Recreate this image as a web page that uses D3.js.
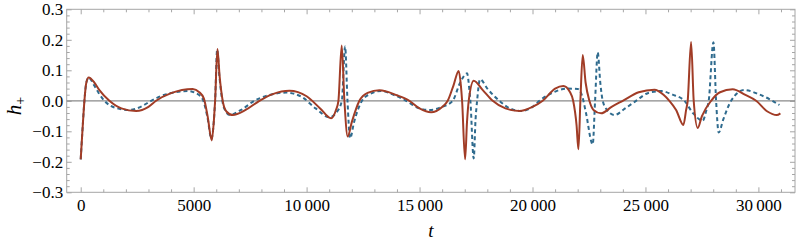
<!DOCTYPE html>
<html>
<head>
<meta charset="utf-8">
<script src="https://cdn.jsdelivr.net/npm/d3@7"></script>
<style>
  body { margin: 0; background: #fff; }
  svg { display: block; }
  .tick text { font-family: "Liberation Serif", "DejaVu Serif", serif; font-size: 17px; fill: #000; }
  .axis path, .axis line { stroke: #a6a6a6; }
</style>
</head>
<body>
<figure id="chart" style="margin:0"></figure>
<script>
// solid curve (t, h+)
const redT = [0, 100, 164, 250, 354, 600, 828, 1270, 1800, 2452, 3000, 3338, 4000, 4958, 5250, 5450, 5622, 5800, 5900, 5950, 6052, 6150, 6286, 6450, 6729, 7300, 7910, 8500, 9238, 10000, 10600, 11084, 11300, 11408, 11554, 11673, 11820, 12000, 12337, 12700, 13223, 14000, 14550, 15000, 15512, 16000, 16246, 16500, 16733, 16830, 16883, 17016, 17100, 17176, 17397, 17800, 18238, 18800, 19420, 20000, 20452, 21000, 21368, 21650, 21800, 21950, 22032, 22120, 22222, 22350, 22519, 22700, 23037, 23500, 23994, 24700, 25396, 25800, 26060, 26357, 26680, 26800, 26870, 27020, 27136, 27313, 27500, 27906, 28300, 28862, 29400, 29898, 30400, 30810, 30974];
const redH = [-0.192, -0.07, 0.0, 0.06, 0.076, 0.06, 0.035, 0.0, -0.025, -0.0334, -0.02, 0.0, 0.025, 0.0387, 0.028, 0.008, -0.052, -0.13, -0.06, 0.0, 0.17, 0.08, 0.0, -0.035, -0.0466, -0.03, 0.0, 0.022, 0.033, 0.015, -0.025, -0.0574, -0.03, 0.0, 0.181, 0.0, -0.117, -0.07, 0.0, 0.026, 0.0344, 0.018, 0.0, -0.025, -0.0377, -0.02, 0.0, 0.05, 0.098, 0.05, 0.0, -0.192, -0.07, 0.0, 0.066, 0.035, 0.0, -0.025, -0.0334, -0.02, 0.0, 0.04, 0.0485, 0.03, 0.0, -0.08, -0.159, 0.0, 0.15, 0.06, 0.0, -0.03, -0.041, -0.02, 0.0, 0.028, 0.0365, 0.02, 0.0, -0.03, -0.0793, -0.03, 0.0, 0.193, 0.0, -0.089, -0.05, 0.0, 0.028, 0.0377, 0.02, 0.0, -0.035, -0.0466, -0.041];

// dashed curve (t, h+)
const blueT = [0, 100, 164, 250, 354, 600, 800, 1050, 1500, 2156, 2700, 3116, 3800, 4737, 5100, 5400, 5600, 5790, 5900, 5950, 6040, 6140, 6270, 6420, 6583, 7100, 7690, 8300, 9092, 9800, 10400, 11010, 11300, 11560, 11704, 11810, 11925, 12100, 12450, 12800, 13298, 13900, 14405, 14900, 15437, 16000, 16467, 16800, 17105, 17200, 17250, 17397, 17480, 17547, 17680, 18000, 18535, 19000, 19494, 20000, 20306, 21000, 21500, 22000, 22200, 22370, 22665, 22770, 22887, 23000, 23108, 23300, 23626, 24100, 24586, 25100, 25700, 26200, 26723, 27100, 27535, 27700, 27800, 28009, 28127, 28243, 28450, 28792, 29380, 30000, 30500, 30930];
const blueH = [-0.192, -0.07, 0.0, 0.06, 0.076, 0.05, 0.025, 0.0, -0.022, -0.03, -0.018, 0.0, 0.022, 0.032, 0.025, 0.005, -0.05, -0.125, -0.06, 0.0, 0.168, 0.08, 0.0, -0.035, -0.0466, -0.03, 0.0, 0.018, 0.027, 0.012, -0.025, -0.054, -0.04, 0.0, 0.178, 0.0, -0.123, -0.07, 0.0, 0.022, 0.032, 0.018, 0.0, -0.022, -0.03, -0.02, 0.0, 0.06, 0.09, 0.04, 0.0, -0.189, -0.06, 0.0, 0.0705, 0.04, 0.0, -0.025, -0.0334, -0.02, 0.0, 0.03, 0.04, 0.039, 0.015, -0.041, -0.143, 0.0, 0.159, 0.06, 0.0, -0.03, -0.0466, -0.025, 0.0, 0.025, 0.032, 0.02, 0.0, -0.04, -0.065, -0.03, 0.0, 0.192, 0.0, -0.104, -0.06, 0.0, 0.0354, 0.022, 0.005, -0.0138];

const xTicks = [0, 5000, 10000, 15000, 20000, 25000, 30000];
const xTickLabels = ['0', '5000', '10\u2009000', '15\u2009000', '20\u2009000', '25\u2009000', '30\u2009000'];
const yTicks = [-0.3, -0.2, -0.1, 0, 0.1, 0.2, 0.3];
const yTickLabels = ['\u22120.3', '\u22120.2', '\u22120.1', '0.0', '0.1', '0.2', '0.3'];

const width = 797;
const height = 246;
const plotLeft = 66.7, plotRight = 795, plotTop = 9.3, plotBottom = 192.3;

const svg = d3.select('figure#chart')
  .append('svg')
  .attr('width', width)
  .attr('height', height);

const x = d3.scaleLinear().domain([-620, 31620]).range([plotLeft, plotRight]);
const y = d3.scaleLinear().domain([-0.3, 0.3]).range([plotBottom, plotTop]);

const xMinor = d3.range(0, 31001, 1000).filter(d => d % 5000 !== 0);
const yMinor = d3.range(-30, 31, 2).filter(d => d % 10 !== 0).map(d => d / 100);

// frame ticks, all pointing inward
function addAxis(axisFn, scale, transform, major, minor, labels) {
  const gMin = svg.append('g').attr('class', 'axis').attr('transform', transform)
    .call(axisFn(scale).tickValues(minor).tickSize(-3).tickFormat(''));
  gMin.select('.domain').remove();
  const g = svg.append('g').attr('class', 'axis').attr('transform', transform)
    .call(axisFn(scale).tickValues(major).tickSize(-5).tickSizeOuter(0)
      .tickPadding(axisFn === d3.axisLeft ? 3.5 : 7)
      .tickFormat((d, i) => labels ? labels[i] : ''));
  g.select('.domain').remove();
  return g;
}

addAxis(d3.axisBottom, x, `translate(0,${plotBottom})`, xTicks, xMinor, xTickLabels);
addAxis(d3.axisTop, x, `translate(0,${plotTop})`, xTicks, xMinor, null);
addAxis(d3.axisLeft, y, `translate(${plotLeft},0)`, yTicks, yMinor, yTickLabels);
addAxis(d3.axisRight, y, `translate(${plotRight},0)`, yTicks, yMinor, null);

svg.append('rect')
  .attr('x', plotLeft).attr('y', plotTop)
  .attr('width', plotRight - plotLeft).attr('height', plotBottom - plotTop)
  .attr('fill', 'none').attr('stroke', '#a6a6a6');

// zero line
svg.append('line')
  .attr('x1', plotLeft).attr('x2', plotRight)
  .attr('y1', y(0)).attr('y2', y(0))
  .attr('stroke', '#8a8a8a').attr('stroke-width', 1.2);

const line = d3.line()
  .x(d => x(d[0]))
  .y(d => y(d[1]))
  .curve(d3.curveMonotoneX);

svg.append('path')
  .datum(blueT.map((t, i) => [t, blueH[i]]))
  .attr('d', line)
  .attr('fill', 'none')
  .attr('stroke', '#2f6b8e')
  .attr('stroke-width', 2)
  .attr('stroke-dasharray', '4,3');

svg.append('path')
  .datum(redT.map((t, i) => [t, redH[i]]))
  .attr('d', line)
  .attr('fill', 'none')
  .attr('stroke', '#a13c26')
  .attr('stroke-width', 2);

// axis labels
svg.append('text')
  .attr('x', (plotLeft + plotRight) / 2).attr('y', 237)
  .attr('text-anchor', 'middle')
  .style('font-family', '"Liberation Serif", serif')
  .style('font-size', '19px')
  .style('font-style', 'italic')
  .text('t');

const yl = svg.append('text')
  .attr('transform', 'translate(21,106) rotate(-90)')
  .attr('text-anchor', 'middle')
  .style('font-family', '"Liberation Serif", serif')
  .style('font-size', '21px');
yl.append('tspan').style('font-style', 'italic').text('h');
yl.append('tspan').attr('dy', 4).style('font-size', '14px').text('+');
</script>
</body>
</html>
